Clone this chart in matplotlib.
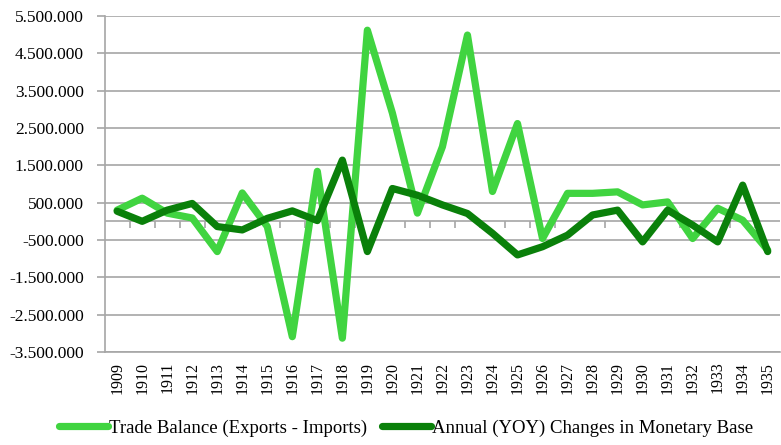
import numpy as np
import matplotlib
matplotlib.use('Agg')
import matplotlib.pyplot as plt
from matplotlib.ticker import FuncFormatter

# Data
years = [str(y) for y in range(1909, 1936)]
trade_balance = [300000, 620000, 220000, 90000, -810000, 760000, -140000, -3090000,
                 1340000, -3130000, 5120000, 2900000, 220000, 2000000, 4990000, 800000,
                 2620000, -460000, 750000, 750000, 790000, 440000, 520000, -460000,
                 350000, 30000, -770000]
monetary_base = [270000, 0, 300000, 480000, -140000, -230000, 80000, 280000,
                 20000, 1640000, -810000, 880000, 700000, 440000, 210000, -320000,
                 -900000, -680000, -370000, 170000, 300000, -550000, 300000, -100000,
                 -550000, 970000, -810000]
yticks = np.arange(-3500000, 5500001, 1000000)

light = '#40d440'
dark = '#0a800a'
grid_col = '#a6a6a6'

plt.rcParams['font.family'] = ['Liberation Serif', 'DejaVu Serif']

fig = plt.figure(figsize=(7.81, 4.45), dpi=100)
ax = fig.add_axes([0.134, 0.209, 0.865, 0.755])

x = np.arange(len(years))
ax.plot(x, trade_balance, color=light, lw=5.2, solid_joinstyle='round',
        solid_capstyle='round', label='Trade Balance (Exports - Imports)', zorder=3)
ax.plot(x, monetary_base, color=dark, lw=5.2, solid_joinstyle='round',
        solid_capstyle='round', label='Annual (YOY) Changes in Monetary Base', zorder=4)

ax.set_xlim(-0.5, len(years) - 0.5)
ax.set_ylim(yticks[0], yticks[-1])
ax.set_yticks(yticks)
ax.yaxis.set_major_formatter(FuncFormatter(lambda v, p: '{:,.0f}'.format(v).replace(',', '.')))
ax.set_xticks(x)
ax.set_xticklabels(years, rotation=90)
ax.tick_params(axis='x', length=0, pad=7, labelsize=11.5)
ax.tick_params(axis='y', length=6, color=grid_col, width=1.2, pad=9, labelsize=12.5)

ax.grid(axis='y', color=grid_col, lw=1.2, zorder=0)
for s in ['top', 'right']:
    ax.spines[s].set_visible(False)
ax.spines['left'].set_color(grid_col)
ax.spines['left'].set_linewidth(1.2)
ax.spines['bottom'].set_color(grid_col)
ax.spines['bottom'].set_linewidth(1.2)

# category axis at zero with tick marks between categories
ax.axhline(0, color=grid_col, lw=1.2, zorder=1)
ax.vlines(np.arange(0.5, len(years) - 1, 1), -170000, 0, color=grid_col, lw=1.2, zorder=1)

fig.legend(loc='lower center', bbox_to_anchor=(0.52, -0.02), ncol=2, frameon=False,
           fontsize=13.5, handlelength=2.6, columnspacing=0.8, handletextpad=0.05)

fig.savefig('out.png', dpi=100)
